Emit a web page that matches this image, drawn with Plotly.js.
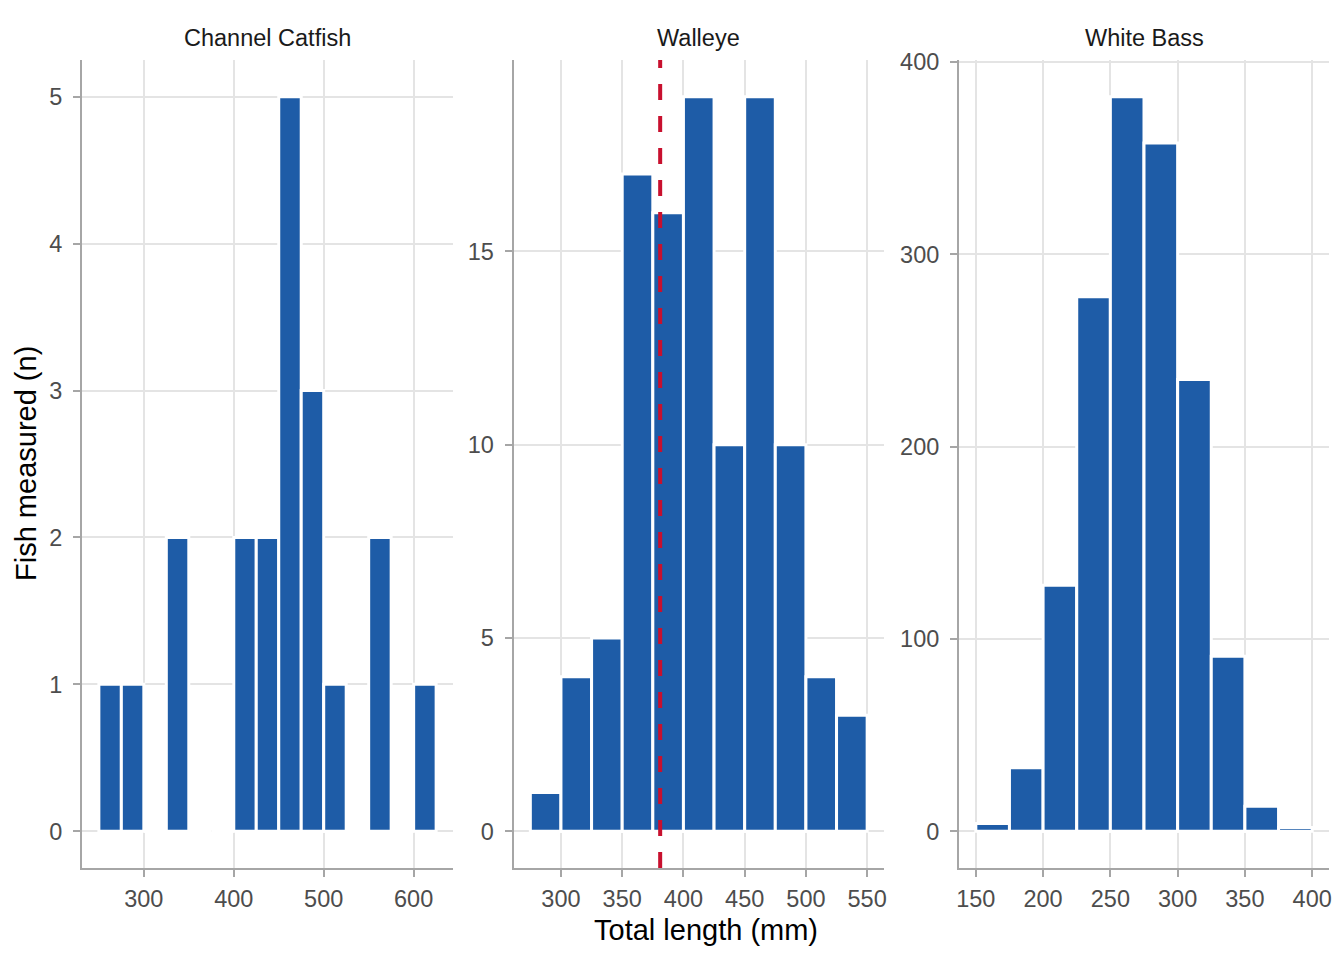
<!DOCTYPE html>
<html>
<head>
<meta charset="utf-8">
<script src="https://cdn.plot.ly/plotly-3.0.1.min.js"></script>
<style>
  html, body { margin: 0; padding: 0; background: #ffffff; }
  #chart { width: 1344px; height: 960px; }
</style>
</head>
<body>
<div id="chart"></div>
<script>
// Length-frequency histograms (25 mm bins), one panel per species
const binWidth = 25;

const speciesNames = ["Channel Catfish", "Walleye", "White Bass"];

// Channel Catfish: bin midpoints (mm) and counts
const catfishMid = [262.5, 287.5, 312.5, 337.5, 362.5, 387.5, 412.5, 437.5, 462.5, 487.5, 512.5, 537.5, 562.5, 587.5, 612.5];
const catfishN   = [1, 1, 0, 2, 0, 0, 2, 2, 5, 3, 1, 0, 2, 0, 1];

// Walleye: bin midpoints (mm) and counts
const walleyeMid = [287.5, 312.5, 337.5, 362.5, 387.5, 412.5, 437.5, 462.5, 487.5, 512.5, 537.5];
const walleyeN   = [1, 4, 5, 17, 16, 19, 10, 19, 10, 4, 3];

// White Bass: bin midpoints (mm) and counts
const whiteBassMid = [162.5, 187.5, 212.5, 237.5, 262.5, 287.5, 312.5, 337.5, 362.5, 387.5];
const whiteBassN   = [4, 33, 128, 278, 382, 358, 235, 91, 13, 2];

// Reference length marked on the Walleye panel (mm)
const walleyeMark = 381;

// Tick values per panel
const xTicks = [[300, 400, 500, 600], [300, 350, 400, 450, 500, 550], [150, 200, 250, 300, 350, 400]];
const yTicks = [[0, 1, 2, 3, 4, 5], [0, 5, 10, 15], [0, 100, 200, 300, 400]];

const mids = [catfishMid, walleyeMid, whiteBassMid];
const counts = [catfishN, walleyeN, whiteBassN];

const barColor = "#1e5ca7";
const axisGrey = "#a6a6a6";
const gridGrey = "#e4e4e4";
const fontFamily = "Liberation Sans, Arial, Helvetica, sans-serif";

// Panel placement (pixels within the 1344 x 960 figure)
const W = 1344, H = 960;
const panelX = [[82, 453], [513.5, 884], [959, 1329]];
const panelTop = 60, panelBottom = 868;
const yDomain = [1 - panelBottom / H, 1 - panelTop / H];

// ggplot-style 5% range expansion
function expand(lo, hi) {
  const pad = (hi - lo) * 0.05;
  return [lo - pad, hi + pad];
}

const traces = [];
const layout = {
  width: W,
  height: H,
  margin: { l: 0, r: 0, t: 0, b: 0 },
  paper_bgcolor: "#ffffff",
  plot_bgcolor: "#ffffff",
  showlegend: false,
  bargap: 0,
  font: { family: fontFamily, color: "#4d4d4d" },
  annotations: [],
  shapes: []
};

for (let i = 0; i < 3; i++) {
  const sfx = i === 0 ? "" : String(i + 1);
  traces.push({
    type: "bar",
    x: mids[i],
    y: counts[i],
    width: binWidth,
    xaxis: "x" + sfx,
    yaxis: "y" + sfx,
    marker: { color: barColor, line: { color: "#ffffff", width: 3 } },
    hoverinfo: "x+y"
  });

  const lo = Math.min(...mids[i]) - binWidth / 2;
  const hi = Math.max(...mids[i]) + binWidth / 2;
  const common = {
    showline: true,
    linecolor: axisGrey,
    linewidth: 2,
    ticks: "outside",
    ticklen: 7,
    tickwidth: 2,
    tickcolor: axisGrey,
    showgrid: true,
    gridcolor: gridGrey,
    gridwidth: 2,
    zeroline: false,
    tickmode: "array",
    tickfont: { family: fontFamily, size: 23.5, color: "#4d4d4d" },
    fixedrange: true
  };
  layout["xaxis" + sfx] = Object.assign({}, common, {
    domain: [panelX[i][0] / W, panelX[i][1] / W],
    anchor: "y" + sfx,
    range: expand(lo, hi),
    tickvals: xTicks[i],
    ticklabelstandoff: 2
  });
  layout["yaxis" + sfx] = Object.assign({}, common, {
    domain: yDomain,
    anchor: "x" + sfx,
    range: expand(0, Math.max(...counts[i])),
    tickvals: yTicks[i],
    ticklabelstandoff: 6
  });

  // Facet strip label
  layout.annotations.push({
    text: speciesNames[i],
    xref: "paper", yref: "paper",
    x: (panelX[i][0] + panelX[i][1]) / 2 / W,
    y: 1 - 38 / H,
    xanchor: "center", yanchor: "middle",
    showarrow: false,
    font: { family: fontFamily, size: 23.5, color: "#1a1a1a" }
  });
}

// Shared axis titles
layout.annotations.push({
  text: "Total length (mm)",
  xref: "paper", yref: "paper",
  x: (panelX[0][0] + panelX[2][1]) / 2 / W,
  y: 1 - 930 / H,
  xanchor: "center", yanchor: "middle",
  showarrow: false,
  font: { family: fontFamily, size: 29, color: "#000000" }
});
layout.annotations.push({
  text: "Fish measured (n)",
  xref: "paper", yref: "paper",
  x: 26 / W,
  y: 1 - (panelTop + panelBottom) / 2 / H,
  xanchor: "center", yanchor: "middle",
  textangle: -90,
  showarrow: false,
  font: { family: fontFamily, size: 29, color: "#000000" }
});

// Dashed reference line on the Walleye panel
layout.shapes.push({
  type: "line",
  xref: "x2", yref: "y2 domain",
  x0: walleyeMark, x1: walleyeMark,
  y0: 0, y1: 1,
  layer: "above",
  line: { color: "#c8102e", width: 4, dash: "16px,16px" }
});

Plotly.newPlot("chart", traces, layout, { displayModeBar: false, staticPlot: true });
</script>
</body>
</html>
